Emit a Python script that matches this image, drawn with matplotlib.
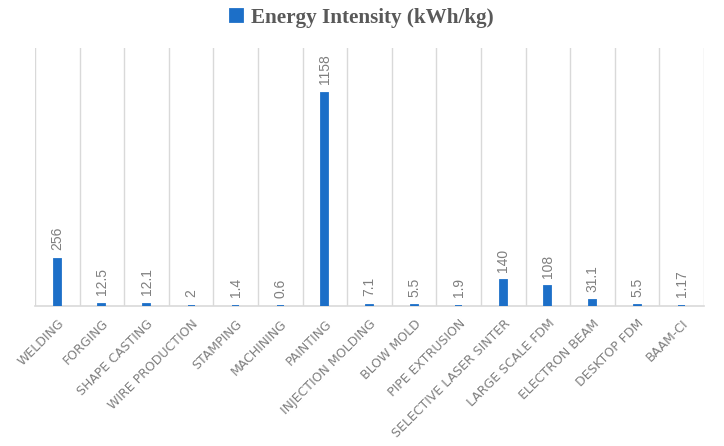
import matplotlib
matplotlib.use("Agg")
import matplotlib.pyplot as plt
import numpy as np

categories = ["WELDING", "FORGING", "SHAPE CASTING", "WIRE PRODUCTION", "STAMPING",
              "MACHINING", "PAINTING", "INJECTION MOLDING", "BLOW MOLD", "PIPE EXTRUSION",
              "SELECTIVE LASER SINTER", "LARGE SCALE FDM", "ELECTRON BEAM", "DESKTOP FDM", "BAAM-CI"]
values = [256, 12.5, 12.1, 2, 1.4, 0.6, 1158, 7.1, 5.5, 1.9, 140, 108, 31.1, 5.5, 1.17]
value_labels = ["256", "12.5", "12.1", "2", "1.4", "0.6", "1158", "7.1", "5.5", "1.9",
                "140", "108", "31.1", "5.5", "1.17"]

W, H = 724, 446
fig = plt.figure(figsize=(W/100, H/100), dpi=100)
ax = fig.add_axes([35/W, 1-306/H, (704-35)/W, (306-48)/H])

blue = "#1C6FC8"
gray = "#595959"
lgray = "#7f7f7f"
x = np.arange(len(categories))
ax.bar(x, values, width=0.16, color=blue, edgecolor=blue, linewidth=1.3, zorder=3,
       label="Energy Intensity (kWh/kg)")

ax.set_xlim(-0.5, len(categories)-0.5)
ax.set_ylim(0, 1400)
for b in np.arange(-0.5, len(categories), 1.0):
    ax.axvline(b, color="#d9d9d9", lw=1, zorder=1)

for xi, v, t in zip(x, values, value_labels):
    ax.annotate(t, (xi, v), xytext=(0, 6), textcoords="offset points",
                rotation=90, ha="center", va="bottom", fontsize=10,
                color=lgray, family="Liberation Sans")

ax.set_xticks(x)
ax.set_xticklabels(categories, rotation=45, ha="right", rotation_mode="anchor",
                   fontsize=9, color=lgray)
ax.tick_params(axis="x", length=0, pad=8)
ax.set_yticks([])
for s in ["left", "right", "top"]:
    ax.spines[s].set_visible(False)
ax.spines["bottom"].set_color("#d9d9d9")
ax.spines["bottom"].set_linewidth(1.2)

leg = fig.legend(loc="center", bbox_to_anchor=(0.5, 1-18/H), frameon=False,
                 handlelength=0.6, handleheight=0.6, handletextpad=0.4,
                 prop={"family": "Liberation Serif", "weight": "bold", "size": 15.2})
for t in leg.get_texts():
    t.set_color(gray)

fig.savefig("out.png", dpi=100)
